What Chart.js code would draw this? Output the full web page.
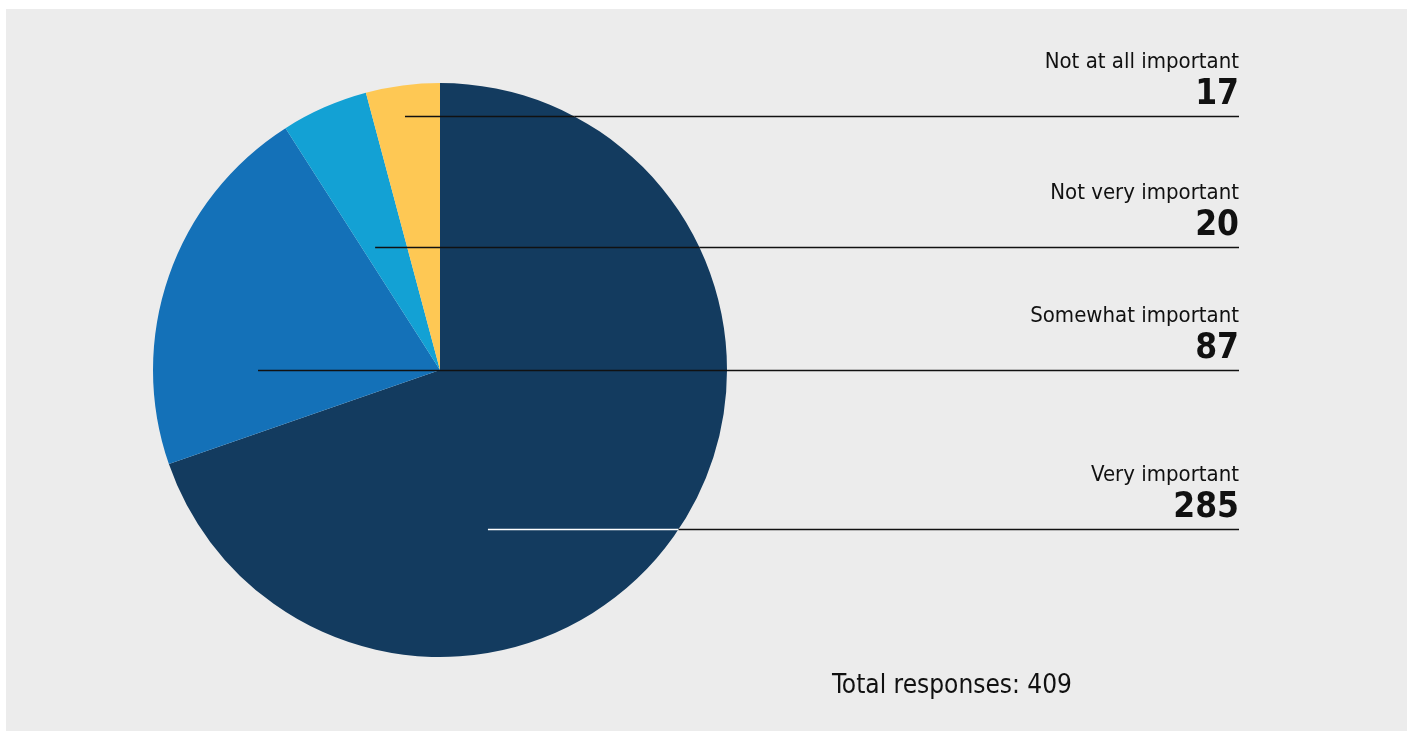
<!DOCTYPE html>
<html>
<head>
<meta charset="utf-8">
<title>Total responses</title>
<script src="https://cdn.jsdelivr.net/npm/chart.js@4/dist/chart.umd.min.js"></script>
<style>
  html, body { margin: 0; padding: 0; background: #ffffff; }
  #wrap { position: absolute; left: 0; top: 0; width: 1410px; height: 732px; }
</style>
</head>
<body>
<div id="wrap"><canvas id="pie" width="1410" height="732"></canvas></div>
<script>
// Survey answers, clockwise from 12 o'clock
const categories = ['Very important', 'Somewhat important', 'Not very important', 'Not at all important'];
const responses = [285, 87, 20, 17];
const sliceColors = ['#133b5f', '#1471b8', '#13a1d4', '#fec854'];
const totalLabel = 'Total responses: 409';

// Leader line anchors inside each slice, in units of the pie radius from its centre
const leaderAnchors = [
  { dx: 0.167, dy: 0.554, inside: '#ffffff' },
  { dx: -0.634, dy: 0.0, inside: '#111111' },
  { dx: -0.226, dy: -0.429, inside: '#111111' },
  { dx: -0.122, dy: -0.885, inside: '#111111' }
];
const LABEL_RIGHT = 1239;
const FONT = '"DejaVu Sans Condensed", "DejaVu Sans", sans-serif';

const panelPlugin = {
  id: 'panel',
  beforeDraw(chart) {
    const ctx = chart.ctx;
    ctx.save();
    ctx.fillStyle = '#ececec';
    ctx.fillRect(6, 9, 1401, 722);
    ctx.restore();
  }
};

const leaderPlugin = {
  id: 'leaders',
  afterDraw(chart) {
    const ctx = chart.ctx;
    const arcs = chart.getDatasetMeta(0).data;
    const cx = arcs[0].x, cy = arcs[0].y, r = arcs[0].outerRadius;
    ctx.save();
    ctx.lineWidth = 1.5;
    arcs.forEach((arc, i) => {
      const a = leaderAnchors[i];
      const y = Math.round(cy + a.dy * r) + 0.5;
      const x0 = cx + a.dx * r;
      const edge = cx + Math.sqrt(Math.max(0, r * r - (y - cy) * (y - cy)));
      // part of the line that lies over the pie
      ctx.strokeStyle = a.inside;
      ctx.beginPath();
      ctx.moveTo(x0, y);
      ctx.lineTo(edge, y);
      ctx.stroke();
      // part over the background
      ctx.strokeStyle = '#111111';
      ctx.beginPath();
      ctx.moveTo(edge, y);
      ctx.lineTo(LABEL_RIGHT, y);
      ctx.stroke();

      ctx.fillStyle = '#111111';
      ctx.textAlign = 'right';
      ctx.textBaseline = 'alphabetic';
      ctx.font = '22px ' + FONT;
      ctx.fillText(categories[i], LABEL_RIGHT, y - 49);
      ctx.font = 'bold 35px ' + FONT;
      ctx.fillText(String(responses[i]), LABEL_RIGHT, y - 13);
    });
    ctx.textAlign = 'left';
    ctx.font = '26px ' + FONT;
    ctx.fillText(totalLabel, 832, 693);
    ctx.restore();
  }
};

new Chart(document.getElementById('pie'), {
  type: 'pie',
  data: {
    labels: categories,
    datasets: [{
      data: responses,
      backgroundColor: sliceColors,
      borderWidth: 0
    }]
  },
  options: {
    responsive: false,
    animation: false,
    layout: { padding: { left: 153, top: 83, right: 683, bottom: 75 } },
    plugins: {
      legend: { display: false },
      tooltip: { enabled: false }
    }
  },
  plugins: [panelPlugin, leaderPlugin]
});
</script>
</body>
</html>
